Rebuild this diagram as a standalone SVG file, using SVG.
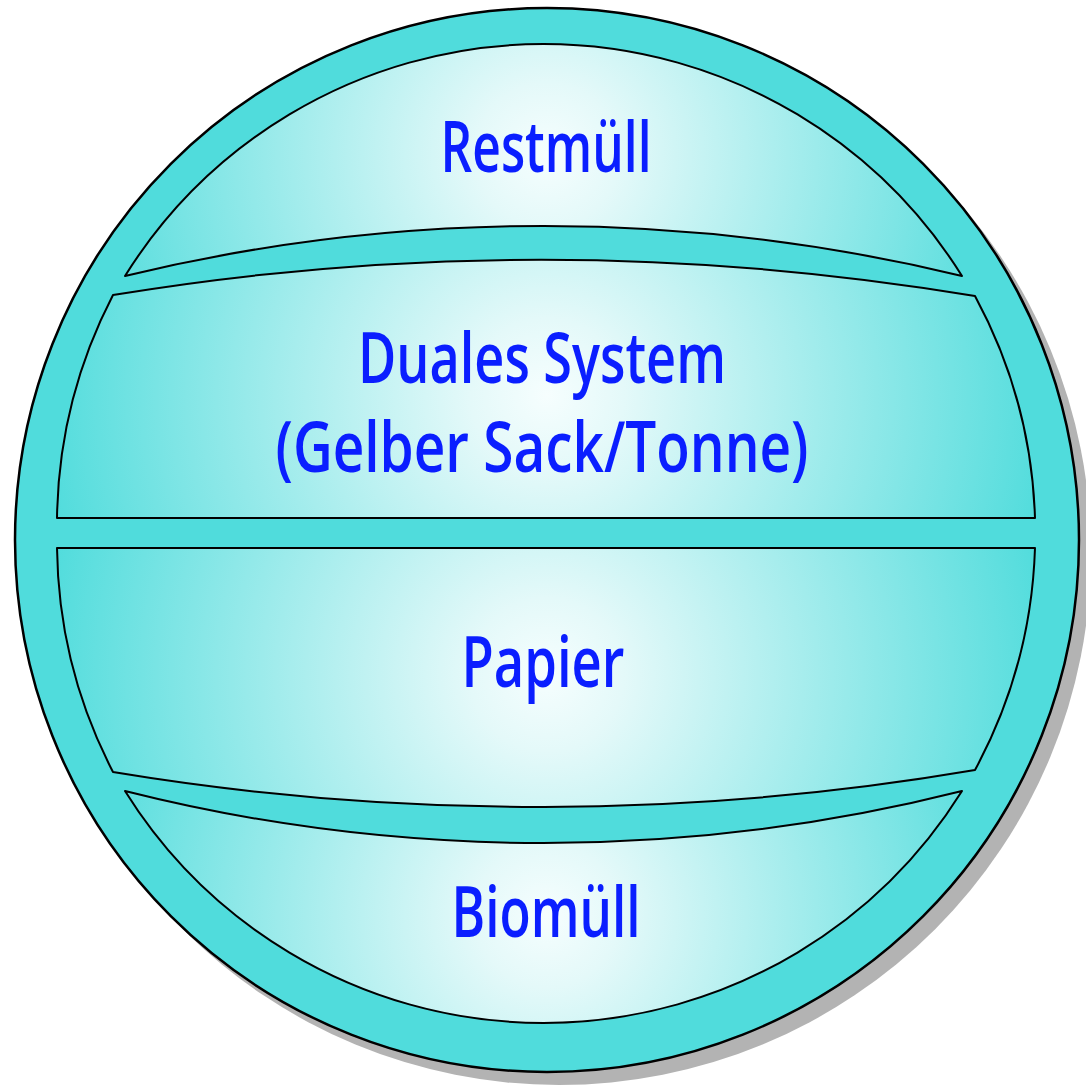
<svg xmlns="http://www.w3.org/2000/svg" width="1086" height="1088" viewBox="0 0 1086 1088">
  <defs>
    <radialGradient id="g1" gradientUnits="userSpaceOnUse" cx="547" cy="155" r="480">
      <stop offset="0" stop-color="#f6fefe"/>
      <stop offset="0.15" stop-color="#e4f9f9"/>
      <stop offset="1" stop-color="#50dcdc"/>
    </radialGradient>
    <radialGradient id="g2" gradientUnits="userSpaceOnUse" cx="547" cy="395" r="510">
      <stop offset="0" stop-color="#f6fefe"/>
      <stop offset="0.15" stop-color="#e4f9f9"/>
      <stop offset="1" stop-color="#50dcdc"/>
    </radialGradient>
    <radialGradient id="g3" gradientUnits="userSpaceOnUse" cx="547" cy="675" r="510">
      <stop offset="0" stop-color="#f6fefe"/>
      <stop offset="0.15" stop-color="#e4f9f9"/>
      <stop offset="1" stop-color="#50dcdc"/>
    </radialGradient>
    <radialGradient id="g4" gradientUnits="userSpaceOnUse" cx="547" cy="915" r="480">
      <stop offset="0" stop-color="#f6fefe"/>
      <stop offset="0.15" stop-color="#e4f9f9"/>
      <stop offset="1" stop-color="#50dcdc"/>
    </radialGradient>
  </defs>
  <style>
    .seg { stroke: #000; stroke-width: 2; stroke-linejoin: round; }
    .lbl { font-family: "Open Sans", "Liberation Sans", sans-serif; font-size: 70px; font-weight: 600; fill: #0a1eff; text-anchor: middle; }
  </style>
  <rect width="1086" height="1088" fill="#fff"/>
  <g id="ball">
    <circle cx="559" cy="553" r="532" fill="#b3b3b3"/>
    <circle cx="547" cy="540" r="532" fill="#50dcdc" stroke="#000" stroke-width="2.5"/>
  </g>
  <g id="restmuell">
    <path class="seg" fill="url(#g1)" d="M125,276 A493.5,493.5 0 0 1 962,276 A1776,1776 0 0 0 125,276 Z"/>
    <text class="lbl" x="546" y="172" textLength="211" lengthAdjust="spacingAndGlyphs">Restmüll</text>
  </g>
  <g id="duales-system">
    <path class="seg" fill="url(#g2)" d="M113,295 A2634,2634 0 0 1 975,296 A500,500 0 0 1 1035,518 L57,518 A500,500 0 0 1 113,295 Z"/>
    <text class="lbl" x="542" y="383" textLength="368" lengthAdjust="spacingAndGlyphs">Duales System</text>
    <text class="lbl" x="542" y="472" textLength="533" lengthAdjust="spacingAndGlyphs">(Gelber Sack/Tonne)</text>
  </g>
  <g id="papier">
    <path class="seg" fill="url(#g3)" d="M57,548 L1035,548 A500,500 0 0 1 975,770 A2598,2598 0 0 1 113,772 A500,500 0 0 1 57,548 Z"/>
    <text class="lbl" x="543" y="687" textLength="163" lengthAdjust="spacingAndGlyphs">Papier</text>
  </g>
  <g id="biomuell">
    <path class="seg" fill="url(#g4)" d="M125,791 A1710,1710 0 0 0 962,791 A493.5,493.5 0 0 1 125,791 Z"/>
    <text class="lbl" x="546" y="937" textLength="189" lengthAdjust="spacingAndGlyphs">Biomüll</text>
  </g>
</svg>
